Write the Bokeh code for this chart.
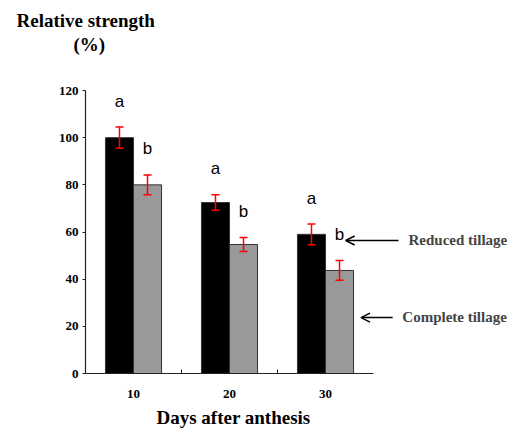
from bokeh.plotting import figure
from bokeh.models import (Range1d, FixedTicker, Whisker, TeeHead, ColumnDataSource,
                          Label, Arrow, OpenHead, Title)
from bokeh.core.properties import value
from bokeh.embed import file_html
from bokeh.resources import INLINE

# ---- data ----
days = ["10", "20", "30"]
reduced = [100, 72.5, 59]
reduced_err = [4.5, 3.3, 4.4]
complete = [80, 54.7, 43.7]
complete_err = [4.2, 3.0, 4.2]
letters_reduced = ["a", "a", "a"]
letters_complete = ["b", "b", "b"]
y_ticks = [0, 20, 40, 60, 80, 100, 120]

SERIF = "Liberation Serif"
SANS = "Liberation Sans"

W, H = 512, 436
LEFT, TOP, BOTTOM = 85, 60, 63
AXIS_TOP = 90          # pixel row where the value 120 sits
AXIS_BOTTOM = H - BOTTOM
px_per_cat = 96.0
x_end = (W - LEFT) / px_per_cat
y_end = 120 * (AXIS_BOTTOM - TOP) / (AXIS_BOTTOM - AXIS_TOP)

bw = 0.292
centers = [i + 0.5 for i in range(len(days))]
x_red = [c - bw / 2 for c in centers]
x_com = [c + bw / 2 for c in centers]

p = figure(width=W, height=H, output_backend="svg", toolbar_location=None,
           x_range=Range1d(0, x_end), y_range=Range1d(0, y_end),
           min_border_left=LEFT, min_border_right=0, min_border_top=TOP,
           min_border_bottom=BOTTOM)
p.xgrid.visible = False
p.ygrid.visible = False
p.outline_line_color = None
p.background_fill_color = "white"
p.border_fill_color = "white"

p.vbar(x=x_red, top=reduced, width=bw, fill_color="black", line_color="#333333", line_width=1)
p.vbar(x=x_com, top=complete, width=bw, fill_color="#999999", line_color="#333333", line_width=1)

for xs, vals, errs in ((x_red, reduced, reduced_err), (x_com, complete, complete_err)):
    src = ColumnDataSource(dict(x=xs,
                                upper=[v + e for v, e in zip(vals, errs)],
                                lower=[v - e for v, e in zip(vals, errs)]))
    w = Whisker(source=src, base="x", upper="upper", lower="lower", level="annotation",
                line_color="red", line_width=1.5,
                upper_head=TeeHead(size=8, line_color="red", line_width=1.5),
                lower_head=TeeHead(size=8, line_color="red", line_width=1.5))
    p.add_layout(w)

off = 11
p.text(x=x_red, y=[v + e + off for v, e in zip(reduced, reduced_err)], text=letters_reduced,
       text_font=value(SANS), text_font_size="17px", text_align="center",
       text_baseline="alphabetic", text_color="black")
p.text(x=x_com, y=[v + e + off for v, e in zip(complete, complete_err)], text=letters_complete,
       text_font=value(SANS), text_font_size="17px", text_align="center",
       text_baseline="alphabetic", text_color="black")

# axes
for ax in (p.xaxis, p.yaxis):
    ax.axis_line_color = "#222222"
    ax.axis_line_width = 1.2
    ax.major_label_text_font = SERIF
    ax.major_label_text_font_style = "bold"
    ax.major_label_text_font_size = "13px"
    ax.major_label_text_color = "black"

p.yaxis.bounds = (0, 120)
p.yaxis.ticker = FixedTicker(ticks=y_ticks)
p.yaxis.major_tick_in = 0
p.yaxis.major_tick_out = 3
p.yaxis.major_tick_line_color = "#222222"
p.yaxis.minor_tick_line_color = None
p.yaxis.major_label_standoff = 4

p.xaxis.bounds = (0, len(days))
p.xaxis.ticker = FixedTicker(ticks=centers, minor_ticks=[1, 2])
p.xaxis.major_label_overrides = {c: d for c, d in zip(centers, days)}
p.xaxis.major_tick_line_color = None
p.xaxis.major_tick_in = 0
p.xaxis.major_tick_out = 0
p.xaxis.minor_tick_in = 4
p.xaxis.minor_tick_out = 0
p.xaxis.minor_tick_line_color = "#222222"
p.xaxis.major_label_standoff = 16

# titles
NB = "\u00a0"
p.add_layout(Title(text="Relative strength\n" + NB * 12 + "(%)", align="left", offset=-69,
                   text_font=SERIF, text_font_style="bold", text_font_size="19px",
                   text_color="black", text_line_height=1.16, standoff=10), "above")
p.add_layout(Title(text="Days after anthesis", align="left", offset=71, text_font=SERIF,
                   text_font_style="bold", text_font_size="19px", text_color="black",
                   standoff=8), "below")

# right-hand annotations
p.add_layout(Label(x=3.365, y=56.4, text="Reduced tillage", text_font=SERIF,
                   text_font_style="bold", text_font_size="15px", text_baseline="alphabetic"))
p.add_layout(Label(x=3.30, y=23.9, text="Complete tillage", text_font=SERIF,
                   text_font_style="bold", text_font_size="15px", text_baseline="alphabetic"))
p.add_layout(Arrow(x_start=3.26, y_start=56.4, x_end=2.71, y_end=56.4, line_width=1.5,
                   end=OpenHead(size=9, line_width=1.5)))
p.add_layout(Arrow(x_start=3.20, y_start=23.7, x_end=2.87, y_end=23.7, line_width=1.5,
                   end=OpenHead(size=9, line_width=1.5)))

open("out.html", "w").write(file_html(p, INLINE))
